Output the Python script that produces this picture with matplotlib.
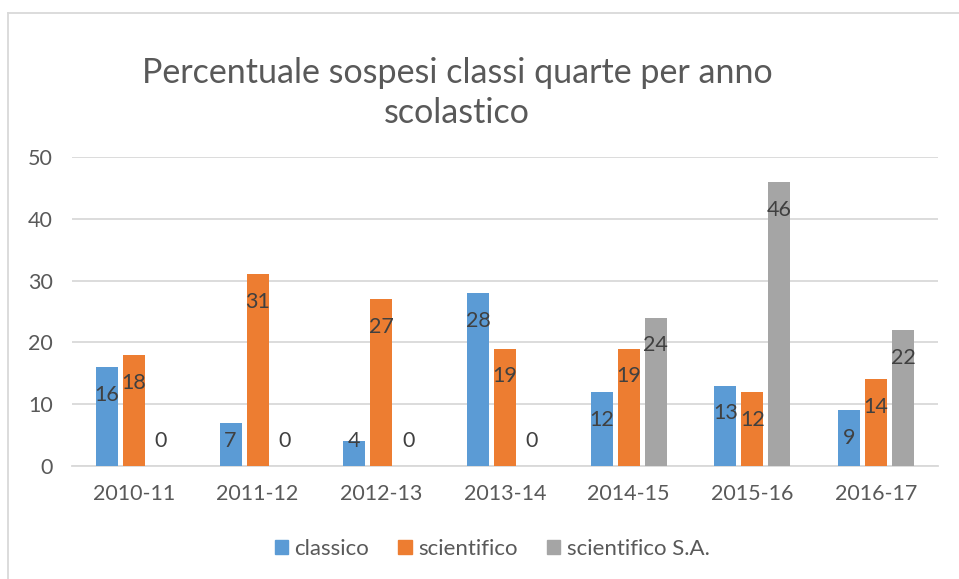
import matplotlib.pyplot as plt
import numpy as np
from matplotlib.patches import Patch

fig_size = (9.59, 5.79)

years = ['2010-11', '2011-12', '2012-13', '2013-14', '2014-15', '2015-16', '2016-17']
classico = [16, 7, 4, 28, 12, 13, 9]
scientifico = [18, 31, 27, 19, 19, 12, 14]
scientifico_sa = [0, 0, 0, 0, 24, 46, 22]
series_names = ['classico', 'scientifico', 'scientifico S.A.']
colors = ['#5B9BD5', '#ED7D31', '#A5A5A5']

plt.rcParams['font.family'] = ['Lato', 'DejaVu Sans']

if __name__ == '__main__':
    fig = plt.figure(figsize=fig_size, dpi=100)
    ax = fig.add_axes([72 / 959, 1 - 466 / 579, (938 - 72) / 959, (466 - 157) / 579])

    X = np.arange(len(years))
    width = 0.178
    step = 0.218
    for i, (vals, name, col) in enumerate(zip([classico, scientifico, scientifico_sa], series_names, colors)):
        pos = X + (i - 1) * step
        ax.bar(pos, vals, width=width, color=col, zorder=3)
        for x, v in zip(pos, vals):
            # labels sit just inside the bar top, never below the floor
            ax.text(x, max(v - 4.5, 4.0), str(v), ha='center', va='center',
                    fontsize=15.5, color='#404040', zorder=4)

    ax.set_xlim(-0.5, len(years) - 0.5)
    ax.set_ylim(0, 50)
    ax.set_yticks(range(0, 51, 10))
    ax.set_xticks(X)
    ax.set_xticklabels(years)
    ax.grid(axis='y', color='#D9D9D9', linewidth=1.3, zorder=0)
    ax.tick_params(length=0, labelsize=15.5, colors='#595959')
    ax.tick_params(axis='x', pad=13)
    ax.tick_params(axis='y', pad=14)
    for side in ['top', 'right', 'left']:
        ax.spines[side].set_visible(False)
    ax.spines['bottom'].set_color('#D9D9D9')
    ax.spines['bottom'].set_linewidth(1.3)

    fig.text(457 / 959, 1 - 93 / 579, 'Percentuale sospesi classi quarte per anno\nscolastico',
             ha='center', va='center', fontsize=24.5, color='#595959', linespacing=1.3)

    handles = [Patch(color=c, label=n) for c, n in zip(colors, series_names)]
    fig.legend(handles=handles, loc='center', bbox_to_anchor=(492 / 959, 1 - 549 / 579), ncol=3,
               frameon=False, fontsize=16, handlelength=0.6, handleheight=0.6,
               handletextpad=0.3, columnspacing=1.3, labelcolor='#595959')

    # chart border (cropped on right and bottom)
    fig.add_artist(plt.Line2D([8 / 959, 1], [1 - 13 / 579, 1 - 13 / 579], color='#D9D9D9', linewidth=1.3))
    fig.add_artist(plt.Line2D([8 / 959, 8 / 959], [0, 1 - 13 / 579], color='#D9D9D9', linewidth=1.3))

    fig.savefig('out.png', dpi=100)
